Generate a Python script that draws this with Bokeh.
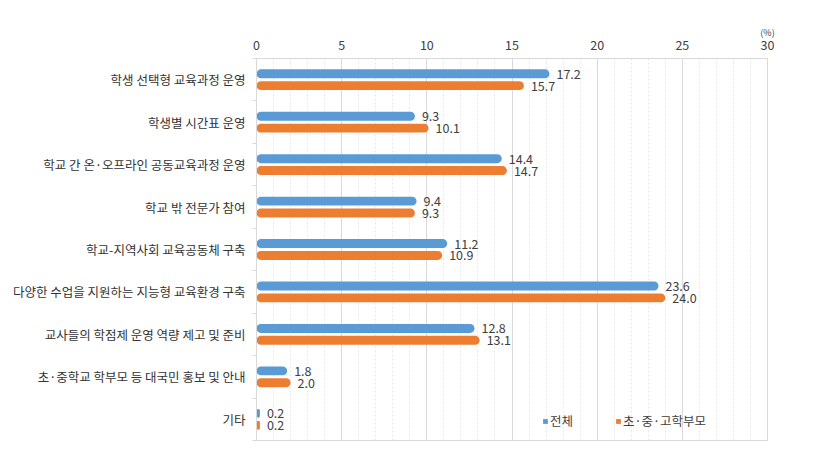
from bokeh.plotting import figure
from bokeh.models import (ColumnDataSource, Range1d, FixedTicker, Legend, LegendItem,
                          LabelSet, LinearAxis)
from bokeh.core.properties import value
from bokeh.embed import file_html
from bokeh.resources import INLINE

categories = [
    "학생 선택형 교육과정 운영",
    "학생별 시간표 운영",
    "학교 간 온·오프라인 공동교육과정 운영",
    "학교 밖 전문가 참여",
    "학교-지역사회 교육공동체 구축",
    "다양한 수업을 지원하는 지능형 교육환경 구축",
    "교사들의 학점제 운영 역량 제고 및 준비",
    "초·중학교 학부모 등 대국민 홍보 및 안내",
    "기타",
]
series_names = ["전체", "초·중·고학부모"]
total = [17.2, 9.3, 14.4, 9.4, 11.2, 23.6, 12.8, 1.8, 0.2]
parents = [15.7, 10.1, 14.7, 9.3, 10.9, 24.0, 13.1, 2.0, 0.2]
x_ticks = [0, 5, 10, 15, 20, 25, 30]
unit_label = "(%)"

BLUE = "#5B9BD5"
ORANGE = "#ED7D31"
FONT = "Noto Sans CJK KR"
TXT = "#404040"

n = len(categories)
idx = list(range(n))

p = figure(width=799, height=450, output_backend="svg", toolbar_location=None,
           x_range=Range1d(0, 30), y_range=Range1d(n - 0.5, -0.5),
           x_axis_location="above",
           min_border_left=256, min_border_right=32, min_border_top=58, min_border_bottom=10)
p.outline_line_color = "#d9d9d9"
p.outline_line_width = 1
p.background_fill_color = "white"
p.border_fill_color = "white"

# grids
p.xgrid.ticker = FixedTicker(ticks=x_ticks, minor_ticks=list(range(0, 31)))
p.xgrid.grid_line_color = "#d9d9d9"
p.xgrid.minor_grid_line_color = "#e8e8e8"
p.xgrid.minor_grid_line_dash = "2 2"
p.ygrid.grid_line_color = None

# x axis
p.xaxis.ticker = FixedTicker(ticks=x_ticks)
p.xaxis.axis_line_color = None
p.xaxis.major_tick_line_color = None
p.xaxis.minor_tick_line_color = None
p.xaxis.major_label_text_font = FONT
p.xaxis.major_label_text_font_size = "12.5px"
p.xaxis.major_label_text_color = TXT
p.xaxis.major_label_standoff = 3

# unit label axis
ua = LinearAxis(ticker=FixedTicker(ticks=[x_ticks[-1]]),
                major_label_overrides={x_ticks[-1]: unit_label},
                axis_line_color=None, major_tick_line_color=None, minor_tick_line_color=None,
                major_label_text_font=FONT, major_label_text_font_size="9px",
                major_label_text_color=TXT, major_label_standoff=-8)
p.add_layout(ua, "above")

# y axis
p.yaxis.ticker = FixedTicker(ticks=idx, minor_ticks=[i - 0.5 for i in range(n + 1)])
p.yaxis.major_label_overrides = {i: c for i, c in enumerate(categories)}
p.yaxis.axis_line_color = "#d9d9d9"
p.yaxis.major_tick_line_color = None
p.yaxis.minor_tick_line_color = "#d9d9d9"
p.yaxis.minor_tick_out = 4
p.yaxis.minor_tick_in = 0
p.yaxis.major_label_text_font = FONT
p.yaxis.major_label_text_font_size = "12.5px"
p.yaxis.major_label_text_color = "#333333"
p.yaxis.major_label_standoff = 5

off = 0.14
bh = 0.21
src_t = ColumnDataSource(dict(y=[i - off for i in idx], v=total,
                              t=[f"{v:.1f}" for v in total]))
src_p = ColumnDataSource(dict(y=[i + off for i in idx], v=parents,
                              t=[f"{v:.1f}" for v in parents]))

rt = p.hbar(y="y", left=0, right="v", height=bh, source=src_t, fill_color=BLUE,
            line_color=None, border_radius=5)
rp = p.hbar(y="y", left=0, right="v", height=bh, source=src_p, fill_color=ORANGE,
            line_color=None, border_radius=5)

for s in (src_t, src_p):
    p.add_layout(LabelSet(x="v", y="y", text="t", source=s, x_offset=7,
                          text_baseline="middle", text_align="left",
                          text_font=value(FONT), text_font_size="12.5px", text_color=TXT))

# legend
legend = Legend(items=[LegendItem(label=series_names[0], renderers=[rt]),
                       LegendItem(label=series_names[1], renderers=[rp])],
                orientation="horizontal", location=(286, 10), padding=0, margin=0,
                spacing=42, glyph_width=6, glyph_height=6, label_standoff=2,
                label_text_font=FONT, label_text_font_size="12.5px", label_text_color=TXT,
                border_line_color=None, background_fill_alpha=0)
p.add_layout(legend)

open("out.html", "w").write(file_html(p, INLINE))
